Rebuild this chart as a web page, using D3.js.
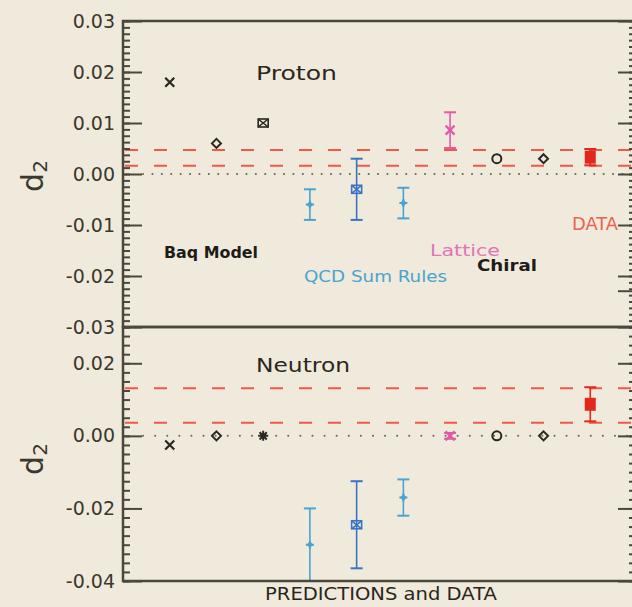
<!DOCTYPE html>
<html>
<head>
<meta charset="utf-8">
<script src="https://cdn.jsdelivr.net/npm/d3@7"></script>
<style>
  body { margin: 0; background: #efeadc; }
  svg { display: block; }
  text { font-family: "DejaVu Sans", sans-serif; }
</style>
</head>
<body>
<div id="chart"></div>
<script>

/*******************************/
/*          The data           */
/*******************************/
const predictions = ["Bag 1", "Bag 2", "Bag 3", "QCD 1", "QCD 2", "QCD 3", "Lattice", "Chiral 1", "Chiral 2", "Data"];
const groups = ["bag", "bag", "bag", "qcd", "qcd2", "qcd", "lattice", "chiral", "chiral", "data"];

const protonValues = [0.018, 0.006, 0.010, -0.006, -0.003, -0.0057, 0.0086, 0.003, 0.003, 0.0033];
const protonErrors = [0, 0, 0, 0.003, 0.006, 0.003, 0.0035, 0, 0, 0.0016];
const protonMarkers = ["cross", "diamond", "boxcross", "plus", "boxcross", "plus", "cross", "circle", "diamond", "square"];
const protonBand = [0.0016, 0.0047];
const protonTicks = [0.03, 0.02, 0.01, 0.00, -0.01, -0.02, -0.03];

const neutronValues = [-0.0025, 0, 0, -0.030, -0.0245, -0.017, 0, 0, 0, 0.0087];
const neutronErrors = [0, 0, 0, 0.010, 0.012, 0.005, 0.0008, 0, 0, 0.0047];
const neutronMarkers = ["cross", "diamond", "asterisk", "plus", "boxcross", "plus", "cross", "circle", "diamond", "square"];
const neutronBand = [0.0036, 0.0131];
const neutronTicks = [0.02, 0.00, -0.02, -0.04];

const colors = {
  bag: "#2a2620", qcd: "#4aa3d0", qcd2: "#3a74c2",
  lattice: "#e05aa8", chiral: "#2a2620", data: "#e2281c"
};

/*******************************/
/*    Declare the constants    */
/*******************************/
const width = 632;
const height = 607;
const xLeft = 123;
const xRight = 637;
const frameColor = "#4a483c";

const svg = d3.select("#chart")
  .append("svg")
    .attr("width", width)
    .attr("height", height);

svg.append("rect")
  .attr("width", width)
  .attr("height", height)
  .attr("fill", "#efeadc");

const xScale = d3.scalePoint()
  .domain(predictions)
  .range([xLeft, xRight])
  .padding(1);

// one marker at (x, y)
const drawMarker = (g, type, x, y, color) => {
  const m = g.append("g").attr("transform", `translate(${x}, ${y})`);
  if (type === "cross") {
    m.append("path").attr("d", "M-4.5,-4.5L4.5,4.5M-4.5,4.5L4.5,-4.5")
      .attr("stroke", color).attr("stroke-width", 2.2).attr("fill", "none");
  } else if (type === "diamond") {
    m.append("path").attr("d", "M0,-4.5L4.5,0L0,4.5L-4.5,0Z")
      .attr("stroke", color).attr("stroke-width", 2).attr("fill", "none");
  } else if (type === "boxcross") {
    m.append("rect").attr("x", -5).attr("y", -4).attr("width", 10).attr("height", 8)
      .attr("stroke", color).attr("stroke-width", 1.6).attr("fill", "none");
    m.append("path").attr("d", "M-5,-4L5,4M-5,4L5,-4")
      .attr("stroke", color).attr("stroke-width", 1.6);
  } else if (type === "plus") {
    m.append("path").attr("d", "M-4,0L4,0M0,-4L0,4")
      .attr("stroke", color).attr("stroke-width", 2);
    m.append("path").attr("d", "M0,-2.5L2.5,0L0,2.5L-2.5,0Z")
      .attr("stroke", color).attr("stroke-width", 1.2).attr("fill", "none");
  } else if (type === "asterisk") {
    m.append("path").attr("d", "M-5,0L5,0M0,-5L0,5M-3.6,-3.6L3.6,3.6M-3.6,3.6L3.6,-3.6")
      .attr("stroke", color).attr("stroke-width", 2);
  } else if (type === "circle") {
    m.append("circle").attr("r", 4.5)
      .attr("stroke", color).attr("stroke-width", 2).attr("fill", "none");
  } else if (type === "square") {
    m.append("rect").attr("x", -5.5).attr("y", -6.5).attr("width", 11).attr("height", 13)
      .attr("fill", color);
  }
};

const drawPanel = (cfg) => {
  const yScale = d3.scaleLinear()
    .domain(cfg.domain)
    .range([cfg.bottom, cfg.top]);
  const g = svg.append("g");

  // dashed band lines
  g.selectAll(".band")
    .data(cfg.band)
    .join("line")
      .attr("x1", xLeft + 2)
      .attr("x2", xRight)
      .attr("y1", d => yScale(d))
      .attr("y2", d => yScale(d))
      .attr("stroke", "#ef5a48")
      .attr("stroke-width", 2)
      .attr("stroke-dasharray", "13,16");

  // dotted zero line
  g.append("line")
    .attr("x1", xLeft + 20)
    .attr("x2", xRight)
    .attr("y1", yScale(0))
    .attr("y2", yScale(0))
    .attr("stroke", "#6a675c")
    .attr("stroke-width", 2)
    .attr("stroke-linecap", "round")
    .attr("stroke-dasharray", `0.1,${cfg.dotGap}`);

  // error bars
  const points = predictions.map((p, i) => ({
    name: p, group: groups[i], value: cfg.values[i], error: cfg.errors[i], marker: cfg.markers[i]
  }));
  const withErr = points.filter(d => d.error > 0);
  const eb = g.selectAll(".err")
    .data(withErr)
    .join("g")
      .attr("stroke", d => colors[d.group])
      .attr("stroke-width", 1.6);
  eb.append("line")
    .attr("x1", d => xScale(d.name)).attr("x2", d => xScale(d.name))
    .attr("y1", d => yScale(d.value + d.error))
    .attr("y2", d => yScale(d.value - d.error));
  eb.append("line")
    .attr("x1", d => xScale(d.name) - 6).attr("x2", d => xScale(d.name) + 6)
    .attr("y1", d => yScale(d.value + d.error)).attr("y2", d => yScale(d.value + d.error))
    .attr("stroke-width", 2);
  eb.append("line")
    .attr("x1", d => xScale(d.name) - 6).attr("x2", d => xScale(d.name) + 6)
    .attr("y1", d => yScale(d.value - d.error)).attr("y2", d => yScale(d.value - d.error))
    .attr("stroke-width", 2);

  // markers
  points.forEach(d => drawMarker(g, d.marker, xScale(d.name), yScale(d.value), colors[d.group]));

  // axes
  const [lo, hi] = cfg.domain;
  const minors = d3.range(0, Math.round((hi - lo) / cfg.minorStep) + 1).map(k => lo + k * cfg.minorStep);
  const majorsAll = d3.range(0, Math.round((hi - lo) / cfg.majorStep) + 1).map(k => lo + k * cfg.majorStep);

  const leftMinor = d3.axisLeft(yScale).tickValues(minors).tickSize(-7).tickFormat("");
  const leftMajor = d3.axisLeft(yScale).tickValues(cfg.ticks).tickSize(-19).tickPadding(8)
    .tickFormat(d => d.toFixed(2));
  const rightMinor = d3.axisRight(yScale).tickValues(minors).tickSize(-8).tickFormat("");
  const rightMajor = d3.axisRight(yScale).tickValues(majorsAll).tickSize(-19).tickFormat("");

  [leftMinor, leftMajor].forEach(ax => {
    const a = g.append("g").attr("transform", `translate(${xLeft}, 0)`).call(ax);
    a.select(".domain").remove();
    a.selectAll("line").attr("stroke", frameColor).attr("stroke-width", 2);
    a.selectAll("text").attr("font-size", 19).attr("fill", "#3a382e")
      .attr("font-family", "DejaVu Sans, sans-serif");
  });
  [rightMinor, rightMajor].forEach(ax => {
    const a = g.append("g").attr("transform", `translate(${xRight}, 0)`).call(ax);
    a.select(".domain").remove();
    a.selectAll("line").attr("stroke", frameColor).attr("stroke-width", 2);
  });

  // frame
  g.append("rect")
    .attr("x", xLeft).attr("y", cfg.top)
    .attr("width", xRight - xLeft).attr("height", cfg.bottom - cfg.top)
    .attr("fill", "none").attr("stroke", frameColor).attr("stroke-width", 2.5);

  // y label d2
  const yl = svg.append("text")
    .attr("transform", `translate(43, ${cfg.labelY}) rotate(-90)`)
    .attr("text-anchor", "middle")
    .attr("fill", "#3a382e");
  yl.append("tspan").attr("font-size", 30).text("d");
  yl.append("tspan").attr("font-size", 20).attr("dy", 4).text("2");

  return yScale;
};

drawPanel({
  domain: [-0.03, 0.03], top: 21, bottom: 327, band: protonBand, values: protonValues,
  errors: protonErrors, markers: protonMarkers, ticks: protonTicks,
  minorStep: 0.00125, majorStep: 0.01, dotGap: 9.3, labelY: 176
});
drawPanel({
  domain: [-0.04, 0.03], top: 327, bottom: 581, band: neutronBand, values: neutronValues,
  errors: neutronErrors, markers: neutronMarkers, ticks: neutronTicks,
  minorStep: 0.0025, majorStep: 0.02, dotGap: 12, labelY: 459
});

/*******************************/
/*         Annotations         */
/*******************************/
const labels = [
  {text: "Proton", x: 256, y: 80, size: 20, w: 81, color: "#2a2620", weight: "normal"},
  {text: "Neutron", x: 256, y: 372, size: 20, w: 94, color: "#2a2620", weight: "normal"},
  {text: "Baq Model", x: 164, y: 258, size: 16, w: 94, color: "#1e1c18", weight: "bold"},
  {text: "QCD Sum Rules", x: 304, y: 282, size: 16, w: 143, color: "#4aa3d0", weight: "normal"},
  {text: "Lattice", x: 430, y: 256, size: 16, w: 70, color: "#e274b8", weight: "normal"},
  {text: "Chiral", x: 477, y: 271, size: 16, w: 60, color: "#1e1c18", weight: "bold"},
  {text: "DATA", x: 572, y: 230, size: 17, w: 46, color: "#e8644e", weight: "normal"},
  {text: "PREDICTIONS and DATA", x: 265, y: 600, size: 17, w: 232, color: "#2a2620", weight: "normal"}
];
svg.selectAll(".label")
  .data(labels)
  .join("text")
    .attr("x", d => d.x)
    .attr("y", d => d.y)
    .attr("font-size", d => d.size)
    .attr("font-weight", d => d.weight)
    .attr("fill", d => d.color)
    .attr("textLength", d => d.w)
    .attr("lengthAdjust", "spacingAndGlyphs")
    .text(d => d.text);

</script>
</body>
</html>
